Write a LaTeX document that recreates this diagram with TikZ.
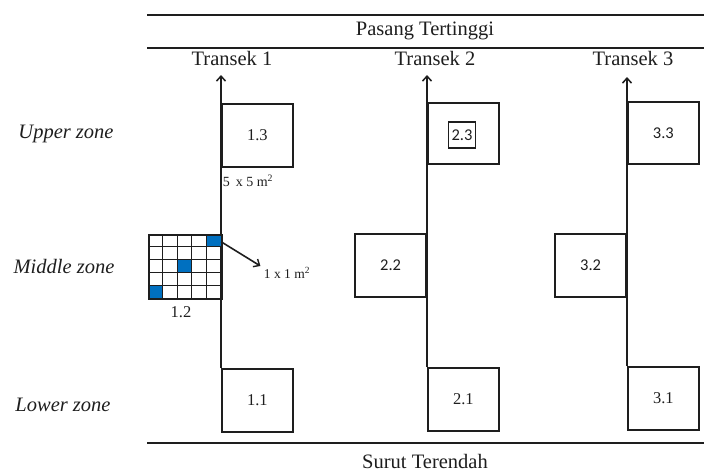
\documentclass[tikz,border=0pt]{standalone}
\usepackage{fontspec}
\setmainfont{Liberation Serif}
\newfontfamily\plotfont{Carlito}
\usetikzlibrary{arrows.meta}
\definecolor{ink}{RGB}{30,30,30}
\definecolor{cellblue}{RGB}{0,112,192}
\begin{document}
\begin{tikzpicture}[x=1pt,y=-1pt,
  every node/.style={text=ink},
  rule/.style={draw=ink, line width=1.8pt},
  transect/.style={draw=ink, line width=1.7pt, -{Straight Barb[length=5pt,width=9pt,line width=1.5pt]}},
  plot/.style={draw=ink, line width=1.8pt, inner sep=0pt, anchor=north west,
               minimum width=71pt, minimum height=63pt, font=\fontsize{16.5}{18}\selectfont},
  sideplot/.style={plot, anchor=north east},
  zone/.style={font=\fontsize{20.5}{24}\selectfont\itshape},
  head/.style={font=\fontsize{20.5}{24}\selectfont},
  dim/.style={font=\fontsize{14}{16}\selectfont},
  gridline/.style={draw=ink, line width=1.3pt}]
\useasboundingbox (0,0) rectangle (704,471);

% horizontal reference lines
\coordinate (t0) at (147,15);  \coordinate (t1) at (704,15);
\coordinate (m0) at (147,48);  \coordinate (m1) at (704,48);
\coordinate (b0) at (147,443); \coordinate (b1) at (704,443);
\draw[rule] (t0) -- (t1);
\draw[rule] (m0) -- (m1);
\draw[rule] (b0) -- (b1);
\node[head] (hi) at (425,31) {Pasang Tertinggi};
\node[head] (lo) at (425,461) {Surut Terendah};

% transect titles
\node[head] (tr1) at (232,58) {Transek 1};
\node[head] (tr2) at (435,58) {Transek 2};
\node[head] (tr3) at (633,58) {Transek 3};

% zone labels
\node[zone] (zu) at (66,134) {Upper zone};
\node[zone] (zm) at (64,266) {Middle zone};
\node[zone] (zl) at (63,405) {Lower zone};

% plots of transect 1
\node[plot] (p13) at (221,103) {1.3};
\node[plot] (p11) at (221,368) {1.1};
\node[dim] (s55) at (248,181) {5\, x 5 m\textsuperscript{2}};

% plots of transect 2
\node[plot, minimum height=61pt] (p23) at (427,102) {};
\node[draw=ink, line width=1.6pt, inner sep=0pt, minimum width=27pt, minimum height=26pt,
      font=\plotfont\fontsize{16.5}{18}\selectfont] (p23in) at (462,135) {2.3};
\node[sideplot, font=\plotfont\fontsize{16.5}{18}\selectfont] (p22) at (427,233) {2.2};
\node[plot, minimum height=63pt] (p21) at (427,367) {2.1};

% plots of transect 3
\node[plot, minimum height=62pt, font=\plotfont\fontsize{16.5}{18}\selectfont] (p33) at (627,101) {3.3};
\node[sideplot, minimum height=63pt, font=\plotfont\fontsize{16.5}{18}\selectfont] (p32) at (627,233) {3.2};
\node[plot, minimum height=63pt] (p31) at (627,366) {3.1};

% transect lines with arrows
\coordinate (a1) at (221,75);
\coordinate (a2) at (427,75);
\coordinate (a3) at (627,77);
\draw[transect] (p11.north west) -- (a1);
\draw[transect] (p21.north west) -- (a2);
\draw[transect] (p31.north west) -- (a3);

% plot 1.2 divided into 5 x 5 subplots of 1 x 1 m
\def\gx{148}\def\gy{234}\def\cw{14.6}\def\ch{12.8}
\fill[cellblue] (\gx+4*\cw,\gy) rectangle (\gx+5*\cw,\gy+\ch);
\fill[cellblue] (\gx+2*\cw,\gy+2*\ch) rectangle (\gx+3*\cw,\gy+3*\ch);
\fill[cellblue] (\gx,\gy+4*\ch) rectangle (\gx+\cw,\gy+5*\ch);
\foreach \i in {1,...,4} {
  \draw[gridline] (\gx+\i*\cw,\gy) -- (\gx+\i*\cw,\gy+5*\ch);
  \draw[gridline] (\gx,\gy+\i*\ch) -- (\gx+5*\cw,\gy+\i*\ch);
}
\node[draw=ink, line width=1.6pt, inner sep=0pt, anchor=north west,
      minimum width=73pt, minimum height=64pt] (p12) at (\gx,\gy) {};
\node[font=\fontsize{16.5}{18}\selectfont] (l12) at (181,312) {1.2};
\coordinate (c12) at (\gx+5*\cw,\gy+0.6*\ch);
\node[font=\fontsize{13.5}{15}\selectfont] (s11) at (287,273) {1 x 1 m\textsuperscript{2}};
\draw[draw=ink, line width=1.6pt, -{Straight Barb[length=5pt,width=9pt,line width=1.4pt]}]
  (c12) -- (s11.west |- 0,266) ;
\end{tikzpicture}
\end{document}
